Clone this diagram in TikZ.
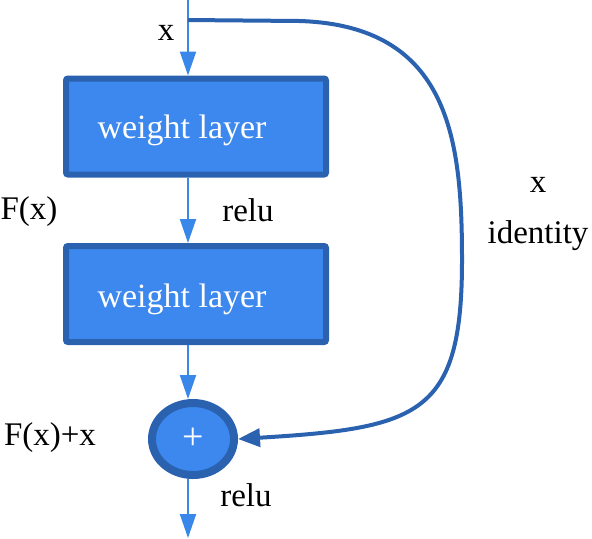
\documentclass[tikz,border=0pt]{standalone}
\usepackage{fontspec}
\setmainfont{Liberation Serif}
\usetikzlibrary{arrows.meta}
\definecolor{layerfill}{HTML}{3D88EE}
\definecolor{layerline}{HTML}{2A62B0}
\definecolor{flowline}{HTML}{3A87EA}
\begin{document}
\begin{tikzpicture}[x=0.5pt, y=-0.5pt,
  layer/.style={rectangle, draw=layerline, fill=layerfill, line width=3pt, rounded corners=1pt,
    minimum width=130pt, minimum height=48pt},
  layer text/.style={text=white, font=\fontsize{17}{20}\selectfont},
  adder/.style={ellipse, draw=layerline, fill=layerfill, line width=4pt, minimum width=41pt,
    minimum height=36pt, inner sep=0pt, text=white, font=\fontsize{19}{20}\selectfont},
  flow/.style={flowline, line width=1pt, -{Triangle[length=12pt, width=8pt]}},
  label/.style={font=\fontsize{16.5}{20}\selectfont}]
\useasboundingbox (0,0) rectangle (592,538);
\usetikzlibrary{shapes.geometric}
\coordinate (in) at (188,0);
\coordinate (split) at (188,20);
\coordinate (out) at (188,538);
\node[layer] (layer 1) at (196,126.5) {};
\node[layer text] (text 1) at (182,130) {weight layer};
\node[layer] (layer 2) at (196,294) {};
\node[layer text] (text 2) at (182,299) {weight layer};
\node[adder] (sum) at (193,439) {+};

\draw[flow] (in) -- (layer 1.north -| in);
\draw[flow] (layer 1.south -| in) -- (layer 2.north -| in);
\draw[flow] (layer 2.south -| in) -- (sum.north -| in);
\draw[flow] (sum.south -| in) -- (out);

% shortcut
\draw[layerline, line width=2pt, -{Triangle[length=11pt, width=9pt]}] (split) -- (300,21)
  .. controls (450,26) and (462,140) .. (462,260)
  .. controls (462,415) and (420,428) .. (sum.east);

\node[label] (x in) at (166,33) {x};
\node[label] (relu 1) at (248,210) {relu};
\node[label] (fx) at (29,212) {F(x)};
\node[label] (fx plus x) at (50,438) {F(x)+x};
\node[label] (relu 2) at (246,495) {relu};
\node[label] (x id) at (538,185) {x};
\node[label] (identity) at (538,236) {identity};
\end{tikzpicture}
\end{document}
